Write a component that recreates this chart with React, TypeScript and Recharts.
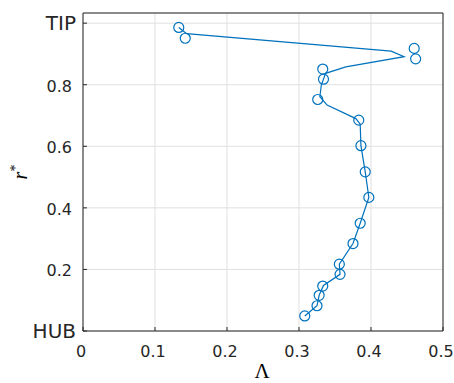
import React from 'react'
import { CartesianGrid, Scatter, ScatterChart, XAxis, YAxis } from 'recharts'

// measured markers (open circles)
const markerLambda = [0.133, 0.142, 0.46, 0.462, 0.333, 0.334, 0.326, 0.383, 0.386, 0.392, 0.397, 0.385, 0.375, 0.356, 0.357, 0.333, 0.328, 0.325, 0.308]
const markerR = [0.986, 0.951, 0.918, 0.884, 0.851, 0.818, 0.752, 0.685, 0.602, 0.517, 0.434, 0.35, 0.284, 0.217, 0.184, 0.146, 0.116, 0.082, 0.049]

// the fitted line
const lineLambda = [0.133, 0.144, 0.428, 0.446, 0.365, 0.337, 0.331, 0.329, 0.339, 0.379, 0.385, 0.386, 0.392, 0.397, 0.385, 0.375, 0.356, 0.357, 0.334, 0.328, 0.325, 0.308]
const lineR = [0.986, 0.966, 0.909, 0.891, 0.858, 0.837, 0.799, 0.761, 0.734, 0.69, 0.672, 0.602, 0.517, 0.434, 0.35, 0.284, 0.217, 0.184, 0.148, 0.116, 0.082, 0.049]

const xTicks = [0, 0.1, 0.2, 0.3, 0.4, 0.5]
const yTicks = [0, 0.2, 0.4, 0.6, 0.8, 1]
const yTickLabels: Record<number, string> = { 0: 'HUB', 1: 'TIP' }

const BLUE = '#0072BD'
const AXIS = '#262626'
const FONT = '"DejaVu Sans", sans-serif'

const markers = markerLambda.map((x, i) => ({ x, y: markerR[i] }))
const fitLine = lineLambda.map((x, i) => ({ x, y: lineR[i] }))

const BottomTick = (props: any) => {
  const { x, y, payload } = props
  return (
    <g>
      <line x1={x} y1={y} x2={x} y2={y - 4} stroke={AXIS} />
      <text x={x - 2} y={y + 26} textAnchor="middle" fontSize={16} fill={AXIS} fontFamily={FONT}>
        {payload.value}
      </text>
    </g>
  )
}

const LeftTick = (props: any) => {
  const { x, y, payload } = props
  const word = yTickLabels[payload.value]
  return (
    <g>
      <line x1={x} y1={y} x2={x + 4} y2={y} stroke={AXIS} />
      <text x={word ? x - 7 : x - 11} y={y + 7} textAnchor="end"
        fontSize={word ? 20 : 16} fill={AXIS} fontFamily={FONT}>
        {word ?? payload.value}
      </text>
    </g>
  )
}

const TopTick = (props: any) => <line x1={props.x} y1={props.y} x2={props.x} y2={props.y + 4} stroke={AXIS} />
const RightTick = (props: any) => <line x1={props.x} y1={props.y} x2={props.x - 4} y2={props.y} stroke={AXIS} />

const Circle = (props: any) => (
  <circle cx={props.cx} cy={props.cy} r={5} fill="none" stroke={BLUE} strokeWidth={1.2} />
)

export default function App() {
  return (
    <div style={{ position: 'absolute', left: 0, top: 0 }}>
      <ScatterChart width={454} height={383} margin={{ top: 12, right: 10, bottom: 0, left: 0 }}>
        <CartesianGrid stroke="#e0e0e0" />
        <XAxis type="number" dataKey="x" domain={[0, 0.5]} ticks={xTicks} height={52}
          stroke={AXIS} tickSize={0} tickMargin={0} tickLine={false} tick={<BottomTick />}
          label={{
            content: (p: any) => (
              <text x={p.viewBox.x + p.viewBox.width / 2 - 1} y={p.viewBox.y + 47} textAnchor="middle"
                fontSize={21} fontFamily='"Liberation Serif", serif' fill="#000">Λ</text>
            ),
          }} />
        <XAxis xAxisId="top" orientation="top" type="number" dataKey="x" domain={[0, 0.5]} ticks={xTicks}
          height={1} stroke={AXIS} tickSize={0} tickMargin={0} tickLine={false} tick={<TopTick />} />
        <YAxis type="number" dataKey="y" domain={[0, 1.033]} ticks={yTicks} width={83}
          stroke={AXIS} tickSize={0} tickMargin={0} tickLine={false} tick={<LeftTick />}
          label={{
            content: (p: any) => {
              const cy = p.viewBox.y + p.viewBox.height / 2
              return (
                <text x={27} y={cy} transform={`rotate(-90, 27, ${cy})`} textAnchor="middle"
                  fontSize={20} fontFamily='"Liberation Serif", serif' fill="#000">
                  <tspan fontStyle="italic">r</tspan>
                  <tspan dy={-7} fontSize={14}>*</tspan>
                </text>
              )
            },
          }} />
        <YAxis yAxisId="right" orientation="right" type="number" dataKey="y" domain={[0, 1.033]} ticks={yTicks}
          width={1} stroke={AXIS} tickSize={0} tickMargin={0} tickLine={false} tick={<RightTick />} />
        <Scatter data={fitLine} line={{ stroke: BLUE, strokeWidth: 1.2 }} shape={() => <g />}
          isAnimationActive={false} />
        <Scatter data={markers} shape={Circle} isAnimationActive={false} />
      </ScatterChart>
    </div>
  )
}
